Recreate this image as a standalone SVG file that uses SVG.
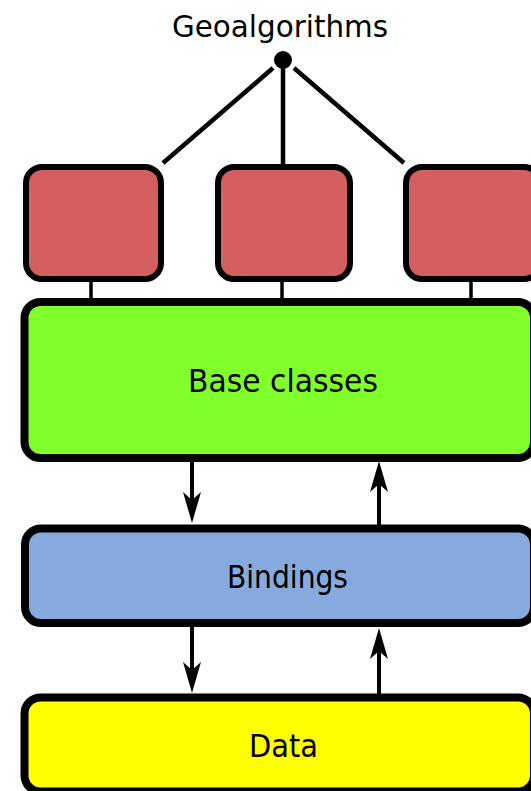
<svg xmlns="http://www.w3.org/2000/svg" width="531" height="791" viewBox="0 0 531 791">
<style>
text{font-family:"DejaVu Sans Condensed","DejaVu Sans","Liberation Sans",sans-serif;font-stretch:condensed;fill:#000;text-anchor:middle}
.alg{fill:#d35f5f;stroke:#000;stroke-width:6}
.big{stroke:#000;stroke-width:8}
.ln{stroke:#000;stroke-width:4.5;fill:none}
.arr{stroke:#000;stroke-width:4;fill:none}
.thin{stroke:#000;stroke-width:3.5;fill:none}
</style>
<defs>
<marker id="ah" markerUnits="userSpaceOnUse" viewBox="-35 -10 40 20" markerWidth="40" markerHeight="20" refX="-20" refY="0" orient="auto">
<path d="M0,0 L-31,-9 L-23,0 L-31,9 Z" fill="#000"/>
</marker>
</defs>
<g id="geoalgorithms">
<text x="280" y="37" font-size="31" textLength="216" lengthAdjust="spacingAndGlyphs">Geoalgorithms</text>
<circle cx="283" cy="60" r="9" fill="#000"/>
</g>
<g id="connectors">
<line class="ln" x1="273" y1="68" x2="163" y2="163"/>
<line class="ln" x1="283" y1="66" x2="283" y2="165"/>
<line class="ln" x1="294" y1="68" x2="404" y2="163"/>
<line class="thin" x1="91" y1="281" x2="91" y2="300"/>
<line class="thin" x1="282" y1="281" x2="282" y2="300"/>
<line class="thin" x1="471" y1="281" x2="471" y2="300"/>
<line class="arr" x1="192" y1="460" x2="192" y2="503" marker-end="url(#ah)"/>
<line class="arr" x1="379" y1="525" x2="379" y2="481" marker-end="url(#ah)"/>
<line class="arr" x1="192" y1="626" x2="192" y2="673" marker-end="url(#ah)"/>
<line class="arr" x1="379" y1="694" x2="379" y2="648" marker-end="url(#ah)"/>
</g>
<g id="alg1"><rect class="alg" x="26" y="167" width="135" height="112" rx="16"/></g>
<g id="alg2"><rect class="alg" x="218" y="167" width="132" height="112" rx="16"/></g>
<g id="alg3"><rect class="alg" x="406" y="167" width="134" height="112" rx="16"/></g>
<g id="base-classes">
<rect class="big" x="24.5" y="302" width="509.5" height="156" rx="16" fill="#80ff2a" stroke-width="7.5"/>
<text x="283" y="392" font-size="31.5" textLength="190" lengthAdjust="spacingAndGlyphs">Base classes</text>
</g>
<g id="bindings">
<rect class="big" x="25" y="528.5" width="509" height="94.5" rx="16" fill="#87aade" stroke-width="8.5"/>
<text x="287.5" y="588" font-size="31.5" textLength="121" lengthAdjust="spacingAndGlyphs">Bindings</text>
</g>
<g id="data">
<rect class="big" x="24.5" y="697.5" width="509.5" height="94" rx="16" fill="#ffff00" stroke-width="8.5"/>
<text x="283.5" y="757" font-size="31.5" textLength="69" lengthAdjust="spacingAndGlyphs">Data</text>
</g>
</svg>
